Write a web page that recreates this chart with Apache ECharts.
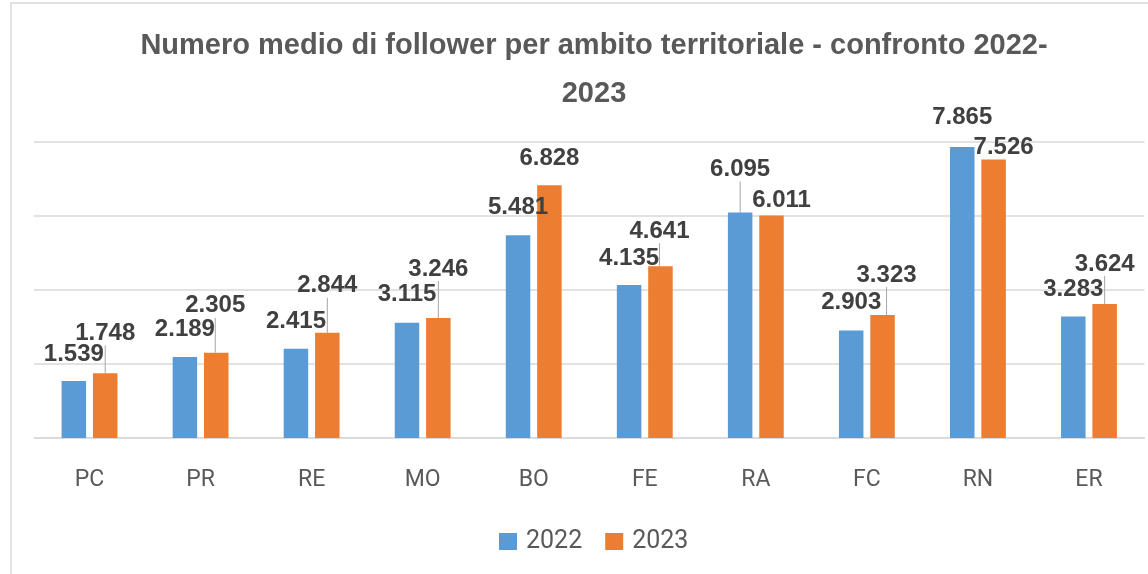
<!DOCTYPE html>
<html>
<head>
<meta charset="utf-8">
<script src="https://cdn.jsdelivr.net/npm/echarts@6/dist/echarts.min.js"></script>
<style>
  html, body { margin: 0; padding: 0; background: #ffffff; }
  #chart { width: 1148px; height: 574px; }
</style>
</head>
<body>
<div id="chart"></div>
<script>
// ---- data ----
const categories = ['PC', 'PR', 'RE', 'MO', 'BO', 'FE', 'RA', 'FC', 'RN', 'ER'];
const values2022 = [1539, 2189, 2415, 3115, 5481, 4135, 6095, 2903, 7865, 3283];
const values2023 = [1748, 2305, 2844, 3246, 6828, 4641, 6011, 3323, 7526, 3624];
const seriesNames = ['2022', '2023'];
const yTicks = [0, 2000, 4000, 6000, 8000];
const titleText = 'Numero medio di follower per ambito territoriale - confronto 2022-\n2023';

// ---- label nudges (layout, not data) ----
const labelShift = [
  [[0,1],[0,0],[0,1],[0,0],[0,0],[0,1],[0,-15],[0,0],[0,-2],[0,1]],
  [[0,-12],[-1,-19],[0,-19],[0,-21],[0,1],[-1,-7],[10,13],[4,-12],[10,16],[0,-12]]
];
const leaderLines = [
  [false,false,false,false,false,false,true,false,false,false],
  [true,true,true,true,false,true,false,true,false,true]
];

const fmt = v => String(v).replace(/\B(?=(\d{3})+(?!\d))/g, '.');
const colors = ['#5b9bd5', '#ed7d31'];

function buildData(vals, si) {
  return vals.map((v, i) => ({
    value: v,
    labelLine: { show: leaderLines[si][i] }
  }));
}

const chart = echarts.init(document.getElementById('chart'), null, { renderer: 'canvas' });

const labelCfg = {
  show: true,
  position: 'top',
  distance: 16,
  formatter: p => fmt(p.value),
  fontFamily: 'Liberation Sans',
  fontSize: 24,
  fontWeight: 'bold',
  color: '#404040'
};

chart.setOption({
  animation: false,
  backgroundColor: '#ffffff',
  color: colors,
  graphic: [{
    type: 'rect',
    silent: true,
    shape: { x: 11, y: 3, width: 1400, height: 800 },
    style: { fill: 'none', stroke: '#d9d9d9', lineWidth: 1.5 }
  }],
  title: {
    text: titleText,
    left: 589,
    top: 17,
    textAlign: 'center',
    textStyle: {
      fontFamily: 'Liberation Sans',
      fontSize: 29,
      fontWeight: 'bold',
      color: '#595959',
      lineHeight: 48
    }
  },
  legend: {
    data: seriesNames,
    left: 494,
    top: 524,
    itemWidth: 18,
    itemHeight: 17,
    itemGap: 23,
    icon: 'rect',
    textStyle: {
      fontFamily: 'Roboto',
      fontSize: 25,
      color: '#595959',
      padding: [0, 0, 0, 4]
    }
  },
  grid: { left: 34, right: 3.5, top: 142, bottom: 136, containLabel: false },
  xAxis: {
    type: 'category',
    data: categories,
    axisTick: { show: false },
    axisLine: { lineStyle: { color: '#d9d9d9', width: 1.5 } },
    axisLabel: {
      margin: 31,
      fontFamily: 'Roboto',
      fontSize: 23,
      color: '#595959'
    }
  },
  yAxis: {
    type: 'value',
    min: yTicks[0],
    max: yTicks[yTicks.length - 1],
    interval: yTicks[1] - yTicks[0],
    axisLabel: { show: false },
    axisLine: { show: false },
    axisTick: { show: false },
    splitLine: { lineStyle: { color: '#d9d9d9', width: 1.5 } }
  },
  series: [values2022, values2023].map((vals, si) => ({
    name: seriesNames[si],
    type: 'bar',
    barWidth: 24.5,
    barGap: '28%',
    data: buildData(vals, si),
    label: labelCfg,
    labelLine: { show: false, lineStyle: { color: '#a6a6a6', width: 1 } },
    labelLayout: p => {
      const s = labelShift[p.seriesIndex][p.dataIndex];
      return { dx: s[0], dy: s[1] };
    }
  }))
});
</script>
</body>
</html>
